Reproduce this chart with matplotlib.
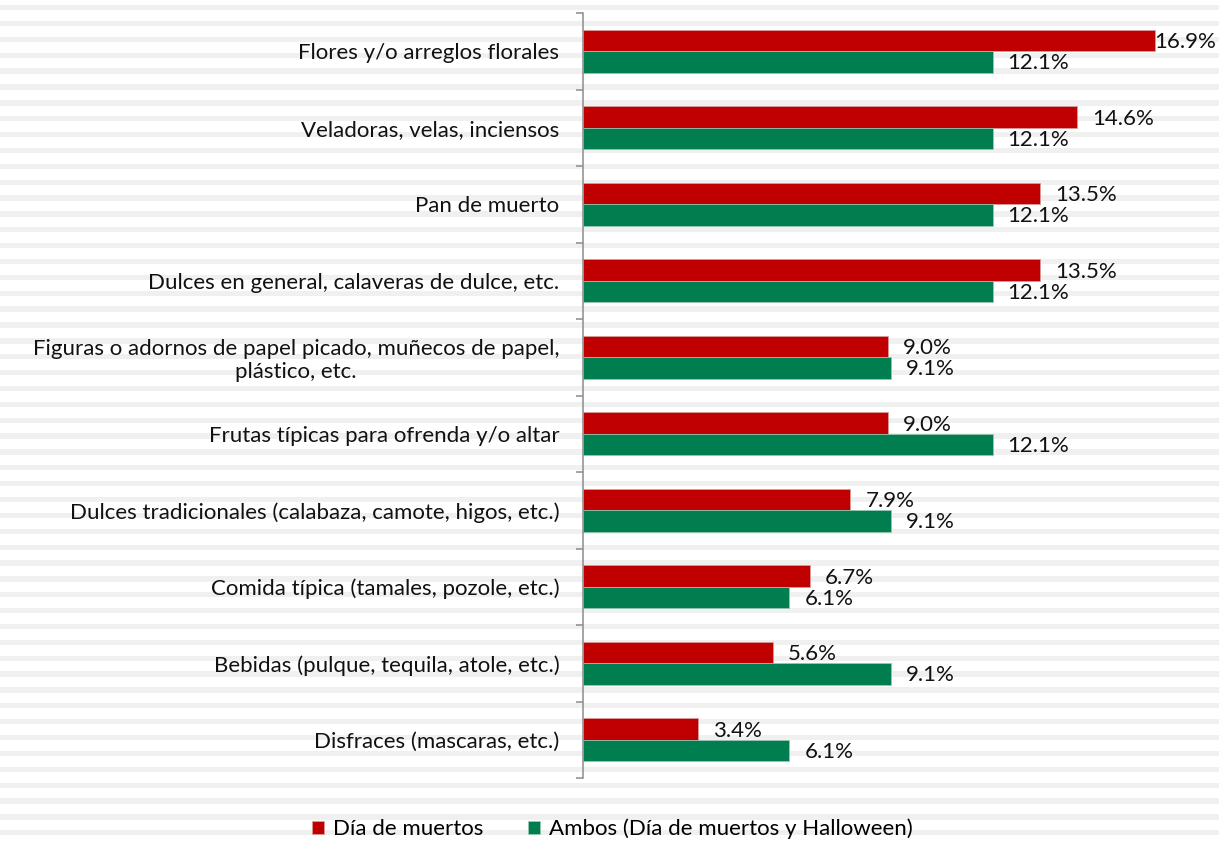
import matplotlib
matplotlib.use("Agg")
import matplotlib.pyplot as plt
import numpy as np

categories = [
    "Flores y/o arreglos florales",
    "Veladoras, velas, inciensos",
    "Pan de muerto",
    "Dulces en general, calaveras de dulce, etc.",
    "Figuras o adornos de papel picado, muñecos de papel,\nplástico, etc.",
    "Frutas típicas para ofrenda y/o altar",
    "Dulces tradicionales (calabaza, camote, higos, etc.)",
    "Comida típica (tamales, pozole, etc.)",
    "Bebidas (pulque, tequila, atole, etc.)",
    "Disfraces (mascaras, etc.)",
]
dia_muertos = [16.9, 14.6, 13.5, 13.5, 9.0, 9.0, 7.9, 6.7, 5.6, 3.4]
ambos = [12.1, 12.1, 12.1, 12.1, 9.1, 12.1, 9.1, 6.1, 9.1, 6.1]
series_names = ["Día de muertos", "Ambos (Día de muertos y Halloween)"]

RED = "#C00000"
GREEN = "#007E4F"
W, H = 1219, 841
plt.rcParams['font.family'] = ['Lato', 'DejaVu Sans']

fig = plt.figure(figsize=(W / 100, H / 100), dpi=100)

# striped background
bg = fig.add_axes([0, 0, 1, 1], zorder=-10)
bg.set_xlim(0, W)
bg.set_ylim(H, 0)
bg.axis("off")
period = H / 53
for k in range(54):
    y0 = 5 + k * period
    bg.axhspan(y0, y0 + 5.3, color="#F0F0F0", lw=0)

left = 583 / W
top = 1 - 13 / H
bottom = 1 - 778 / H
ax = fig.add_axes([left, bottom, 1 - left, top - bottom])
ax.set_facecolor("none")

n = len(categories)
y = np.arange(n)
bh = 0.28
px_per = 33.85
xmax = (W - 583) / px_per
ax.set_xlim(0, xmax)
ax.set_ylim(n - 0.5, -0.5)

ax.barh(y - bh / 2, dia_muertos, height=bh, color=RED, label=series_names[0],
        edgecolor="#D9A0A0", linewidth=0.5)
ax.barh(y + bh / 2, ambos, height=bh, color=GREEN, label=series_names[1],
        edgecolor="#9CC9B5", linewidth=0.5)

fs = 16
def lab(v, yy):
    txt = f"{v:.1f}%"
    end_px = v * px_per + 15
    if end_px + 62 > W - 583:
        ax.annotate(txt, (xmax, yy), xytext=(-3, 0), textcoords="offset pixels",
                    ha="right", va="center", fontsize=fs, color="#111111")
    else:
        ax.annotate(txt, (v, yy), xytext=(15, 0), textcoords="offset pixels",
                    ha="left", va="center", fontsize=fs, color="#111111")

for i in range(n):
    lab(dia_muertos[i], y[i] - bh / 2 + 0.02)
    lab(ambos[i], y[i] + bh / 2 + 0.02)

# axes styling
for s in ["top", "right", "bottom"]:
    ax.spines[s].set_visible(False)
ax.spines["left"].set_color("#8C8C8C")
ax.spines["left"].set_linewidth(1.1)
ax.set_xticks([])
ax.set_yticks(np.arange(-0.5, n, 1.0))
ax.set_yticklabels([])
ax.tick_params(axis="y", which="major", length=5, width=1.1, color="#8C8C8C")
ax.set_yticks(y, minor=True)
ax.set_yticklabels(categories, minor=True, fontsize=fs, color="#111111",
                   multialignment="center")
ax.tick_params(axis="y", which="minor", length=0, pad=17)

handles, labels = ax.get_legend_handles_labels()
fig.legend(handles, labels, loc="center", bbox_to_anchor=(612 / W, 1 - 829 / H),
           ncol=2, frameon=False, fontsize=fs, handlelength=0.55, handleheight=0.55,
           handletextpad=0.4, columnspacing=2.0)

fig.savefig("out.png", dpi=100)
